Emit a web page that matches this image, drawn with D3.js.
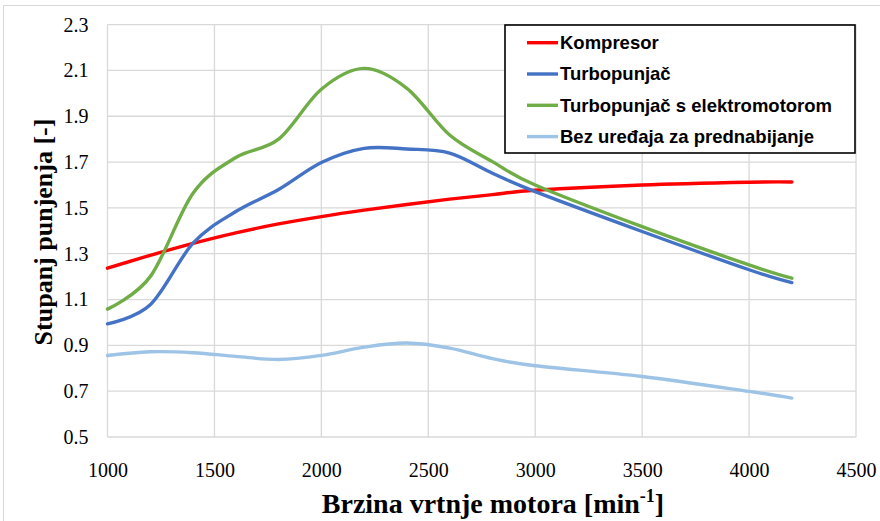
<!DOCTYPE html>
<html>
<head>
<meta charset="utf-8">
<script src="https://cdn.jsdelivr.net/npm/d3@7"></script>
<style>
  html, body { margin: 0; padding: 0; background: #fff; }
  svg { display: block; }
</style>
</head>
<body>
<svg id="chart" width="880" height="521"></svg>
<script>
// Engine speed [min^-1] at which each series was measured
const rpm = [1000, 1200, 1400, 1600, 1800, 2000, 2200, 2400, 2600, 2800, 3000, 3500, 4000, 4200];

// Charging ratio [-] for each boosting variant
const kompresor        = [1.237, 1.293, 1.345, 1.391, 1.43, 1.462, 1.49, 1.515, 1.538, 1.558, 1.577, 1.60, 1.612, 1.613];
const turbopunjac      = [0.994, 1.077, 1.346, 1.484, 1.58, 1.698, 1.76, 1.757, 1.739, 1.651, 1.571, 1.397, 1.23, 1.174];
const turboElektro     = [1.058, 1.20, 1.564, 1.72, 1.80, 2.018, 2.109, 2.022, 1.818, 1.702, 1.60, 1.418, 1.251, 1.193];
const bezPrednabijanja = [0.856, 0.872, 0.868, 0.852, 0.838, 0.856, 0.892, 0.91, 0.888, 0.842, 0.811, 0.764, 0.699, 0.670];

const seriesNames  = ["Kompresor", "Turbopunjač", "Turbopunjač s elektromotorom", "Bez uređaja za prednabijanje"];
const seriesColors = ["#ff0000", "#4472c4", "#70ad47", "#9dc3e6"];

// Axis ticks
const xTicks = [1000, 1500, 2000, 2500, 3000, 3500, 4000, 4500];
const yTicks = [0.5, 0.7, 0.9, 1.1, 1.3, 1.5, 1.7, 1.9, 2.1, 2.3];

const series = [kompresor, turbopunjac, turboElektro, bezPrednabijanja].map((vals, i) => ({
  name: seriesNames[i],
  color: seriesColors[i],
  points: rpm.map((r, j) => ({ x: r, y: vals[j] }))
}));

const svg = d3.select("#chart");

const plot = { left: 107.5, right: 856, top: 24.6, bottom: 437 };
const x = d3.scaleLinear().domain([1000, 4500]).range([plot.left, plot.right]);
const y = d3.scaleLinear().domain([0.5, 2.3]).range([plot.bottom, plot.top]);

// Chart area frame
svg.append("rect")
  .attr("x", 3.5).attr("y", 5.5)
  .attr("width", 1000).attr("height", 1000)
  .attr("fill", "#fff")
  .attr("stroke", "#d9d9d9").attr("stroke-width", 1);

// Gridlines
const grid = svg.append("g").attr("stroke", "#d9d9d9").attr("stroke-width", 1.3);
grid.selectAll("line.h").data(yTicks).join("line")
  .attr("class", "h")
  .attr("x1", plot.left).attr("x2", plot.right)
  .attr("y1", d => y(d)).attr("y2", d => y(d));
grid.selectAll("line.v").data(xTicks).join("line")
  .attr("class", "v")
  .attr("y1", plot.top).attr("y2", plot.bottom)
  .attr("x1", d => x(d)).attr("x2", d => x(d));

// Axes (labels only; lines come from the grid)
const xAxis = svg.append("g")
  .attr("transform", `translate(0,${plot.bottom})`)
  .call(d3.axisBottom(x).tickValues(xTicks).tickSize(0).tickPadding(26).tickFormat(d3.format("d")));
const yAxis = svg.append("g")
  .attr("transform", `translate(${plot.left},0)`)
  .call(d3.axisLeft(y).tickValues(yTicks).tickSize(0).tickPadding(19).tickFormat(d3.format(".1f")));
[xAxis, yAxis].forEach(a => {
  a.select(".domain").remove();
  a.selectAll("text")
    .attr("font-family", "'Liberation Serif', 'Times New Roman', serif")
    .attr("font-size", 20)
    .attr("fill", "#000");
});

// Series lines
const line = d3.line()
  .x(d => x(d.x))
  .y(d => y(d.y))
  .curve(d3.curveCardinal.tension(0));

svg.append("g").selectAll("path").data(series).join("path")
  .attr("d", d => line(d.points))
  .attr("fill", "none")
  .attr("stroke", d => d.color)
  .attr("stroke-width", 3.4)
  .attr("stroke-linecap", "round")
  .attr("stroke-linejoin", "round");

// Axis titles
const xTitle = svg.append("text")
  .attr("x", 493).attr("y", 513)
  .attr("text-anchor", "middle")
  .attr("font-family", "'Liberation Serif', 'Times New Roman', serif")
  .attr("font-weight", "bold")
  .attr("font-size", 28)
  .attr("fill", "#000");
xTitle.append("tspan").text("Brzina vrtnje motora [min");
xTitle.append("tspan").attr("dy", -11).attr("font-size", 18).text("-1");
xTitle.append("tspan").attr("dy", 11).text("]");

svg.append("text")
  .attr("transform", "translate(52,232) rotate(-90)")
  .attr("text-anchor", "middle")
  .attr("font-family", "'Liberation Serif', 'Times New Roman', serif")
  .attr("font-weight", "bold")
  .attr("font-size", 26)
  .attr("fill", "#000")
  .text("Stupanj punjenja [-]");

// Legend
const legend = svg.append("g");
legend.append("rect")
  .attr("x", 505).attr("y", 25)
  .attr("width", 350).attr("height", 128)
  .attr("fill", "#fff")
  .attr("stroke", "#000").attr("stroke-width", 1.6);
const rows = legend.selectAll("g.row").data(series).join("g")
  .attr("class", "row")
  .attr("transform", (d, i) => `translate(0,${42.7 + i * 31.3})`);
rows.append("line")
  .attr("x1", 527).attr("x2", 558)
  .attr("stroke", d => d.color)
  .attr("stroke-width", 3.4);
rows.append("text")
  .attr("x", 560).attr("dy", "0.35em")
  .attr("font-family", "'Liberation Sans', Arial, sans-serif")
  .attr("font-weight", "bold")
  .attr("font-size", 18.5)
  .attr("fill", "#000")
  .text(d => d.name);
</script>
</body>
</html>
